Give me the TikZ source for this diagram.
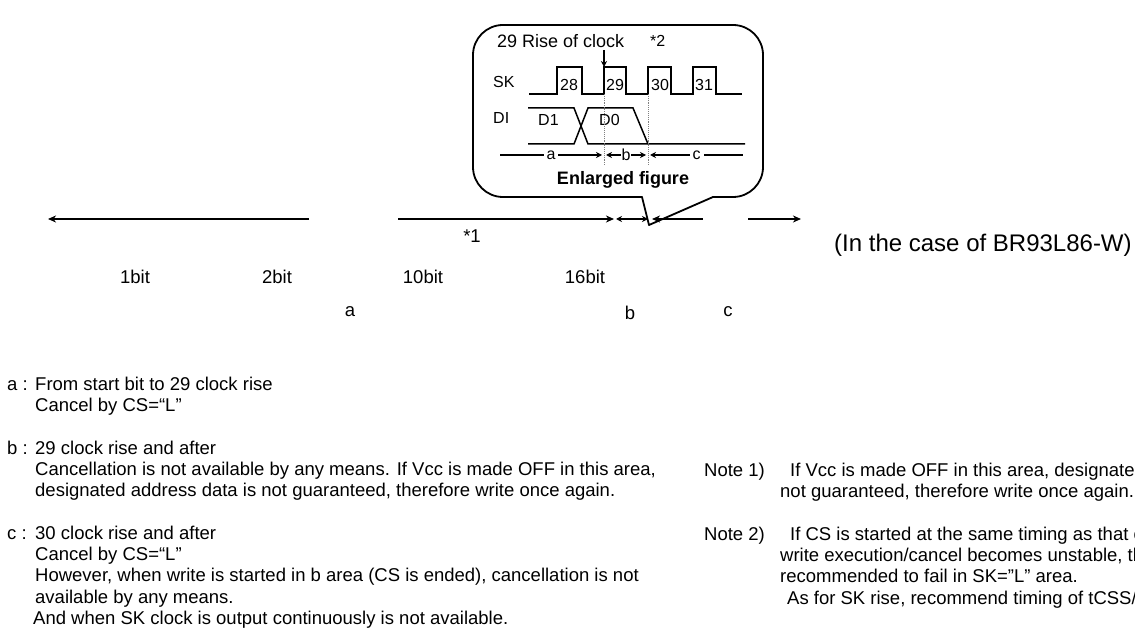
\documentclass[tikz,border=0pt]{standalone}
\usepackage{fontspec}
\setmainfont{Liberation Sans}
\usetikzlibrary{arrows,arrows.meta,shapes,positioning,calc}
\tikzstyle{bubble} = [line width=1.8pt, line cap=round, line join=round]
\tikzstyle{wave} = [line width=1.5pt, line join=miter]
\tikzstyle{dimarrow} = [line width=1.5pt, >={Stealth[length=8pt,width=7pt,inset=2.5pt]}]
\tikzstyle{smallarrow} = [line width=1.2pt, >={Stealth[length=6pt,width=6pt,inset=2pt]}]
\tikzstyle{txt} = [inner sep=0pt, font=\fontsize{18.5}{21.3}\selectfont]
\tikzstyle{lab} = [txt, anchor=north west, text height=13.5pt]
\tikzstyle{sig} = [inner sep=0pt, font=\fontsize{16}{19}\selectfont]

\begin{document}
\begin{tikzpicture}[x=1pt,y=-1pt]
\useasboundingbox (0,0) rectangle (1135,628);

% Enlarged figure bubble
\coordinate (tip) at (649,225);
\coordinate (pl) at (642,197);
\coordinate (pr) at (713,197);
\draw[bubble, rounded corners=30pt] (pr) -- (763,197) -- (763,25) -- (473,25) -- (473,197) -- (pl);
\draw[bubble] (pl) -- (tip) -- (pr);

\node[sig, anchor=west, font=\fontsize{18}{20}\selectfont] (rise) at (497,41) {29 Rise of clock};
\node[sig, anchor=west] (star2) at (650,41) {*2};
\draw[smallarrow,->] (604,50) -- (604,67);

% SK and DI
\node[sig, anchor=west] (SK) at (493,82) {SK};
\node[sig, anchor=west] (DI) at (493,118) {DI};
\draw[wave] (529,94) -- (557,94) -- (557,67) -- (582,67) -- (582,94) -- (604,94) -- (604,67) -- (626,67) -- (626,94)
  -- (648,94) -- (648,67) -- (671,67) -- (671,94) -- (693,94) -- (693,67) -- (716,67) -- (716,94) -- (742,94);
\node[sig, anchor=west] (n28) at (560,85) {28};
\node[sig, anchor=west] (n29) at (606,85) {29};
\node[sig, anchor=west] (n30) at (651,85) {30};
\node[sig, anchor=west] (n31) at (695,85) {31};

\draw[wave] (528,108) -- (574,108) -- (588,144) -- (745,144);
\draw[wave] (528,144) -- (574,144) -- (588,108) -- (633,108) -- (648,144);
\node[sig, anchor=west] (D1) at (538,120) {D1};
\node[sig, anchor=west] (D0) at (599,120) {D0};

\draw[densely dotted, gray, line width=0.9pt] (604,94) -- (604,165);
\draw[densely dotted, gray, line width=0.9pt] (648,94) -- (648,165);

% Areas in the enlarged figure
\coordinate (aL) at (500,155);
\coordinate (aR) at (602,155);
\coordinate (bL) at (606,155);
\coordinate (bR) at (646,155);
\coordinate (cL) at (650,155);
\coordinate (cR) at (743,155);
\draw[smallarrow,->] (aL) -- (aR) node[sig, midway, fill=white, inner sep=3pt] (ea) {a};
\draw[smallarrow,<->] (bL) -- (bR) node[sig, midway, fill=white, inner sep=1pt] (eb) {b};
\draw[smallarrow,<-] (cL) -- (cR) node[sig, midway, fill=white, inner sep=3pt] (ec) {c};
\node[font=\bfseries\fontsize{18}{20}\selectfont, inner sep=0pt] (enl) at (623,180) {Enlarged figure};

% Bit line
\coordinate (L0) at (48,219);
\coordinate (L1) at (309,219);
\coordinate (M0) at (398,219);
\coordinate (M1) at (614,219);
\coordinate (B0) at (616,219);
\coordinate (B1) at (648,219);
\coordinate (C0) at (652,219);
\coordinate (C1) at (703,219);
\coordinate (R0) at (748,219);
\coordinate (R1) at (801,219);
\draw[dimarrow,->] (L1) -- (L0);
\draw[dimarrow,->] (M0) -- (M1);
\draw[smallarrow,line width=1.5pt,<->] (B0) -- (B1);
\draw[dimarrow,<-] (C0) -- (C1);
\draw[dimarrow,->] (R0) -- (R1);

\node[txt] (star1) at (472,236) {*1};
\node[txt] (bit1) at (135,277) {1bit};
\node[txt] (bit2) at (277,277) {2bit};
\node[txt] (bit10) at (423,277) {10bit};
\node[txt] (bit16) at (585,277) {16bit};
\node[txt] (la) at (350,312) {a};
\node[txt] (lb) at (630,313) {b};
\node[txt] (lc) at (728,312) {c};
\node[txt, anchor=west, font=\fontsize{24}{28}\selectfont] (case) at (834,245) {(In the case of BR93L86-W)};

% Areas explained
\node[lab] (alab) at (7,376.5) {a :};
\node[txt, anchor=north west, align=left] (atext) at (35,376.5) {From start bit to 29 clock rise\\Cancel by CS=“L”};
\node[lab] (blab) at (7,440.5) {b :};
\node[txt, anchor=north west, align=left] (btext) at (35,440.5) {29 clock rise and after\\Cancellation is not available by any means. If Vcc is made OFF in this area,\\designated address data is not guaranteed, therefore write once again.};
\node[lab] (clab) at (7,525.5) {c :};
\node[txt, anchor=north west, align=left] (ctext) at (35,525.5) {30 clock rise and after\\Cancel by CS=“L”\\However, when write is started in b area (CS is ended), cancellation is not\\available by any means.\\\hspace*{-2pt}And when SK clock is output continuously is not available.};

% Notes
\node[lab] (note1) at (704,462.5) {Note 1)};
\node[txt, anchor=north west, align=left] (note1text) at (780,462.5) {\hspace*{10pt}If Vcc is made OFF in this area, designated\\not guaranteed, therefore write once again.};
\node[lab] (note2) at (704,526.5) {Note 2)};
\node[txt, anchor=north west, align=left] (note2text) at (780,526.5) {\hspace*{10pt}If CS is started at the same timing as that of\\write execution/cancel becomes unstable, the\\recommended to fail in SK=”L” area.\\\hspace*{7pt}As for SK rise, recommend timing of tCSS/tCSH};
\end{tikzpicture}
\end{document}
